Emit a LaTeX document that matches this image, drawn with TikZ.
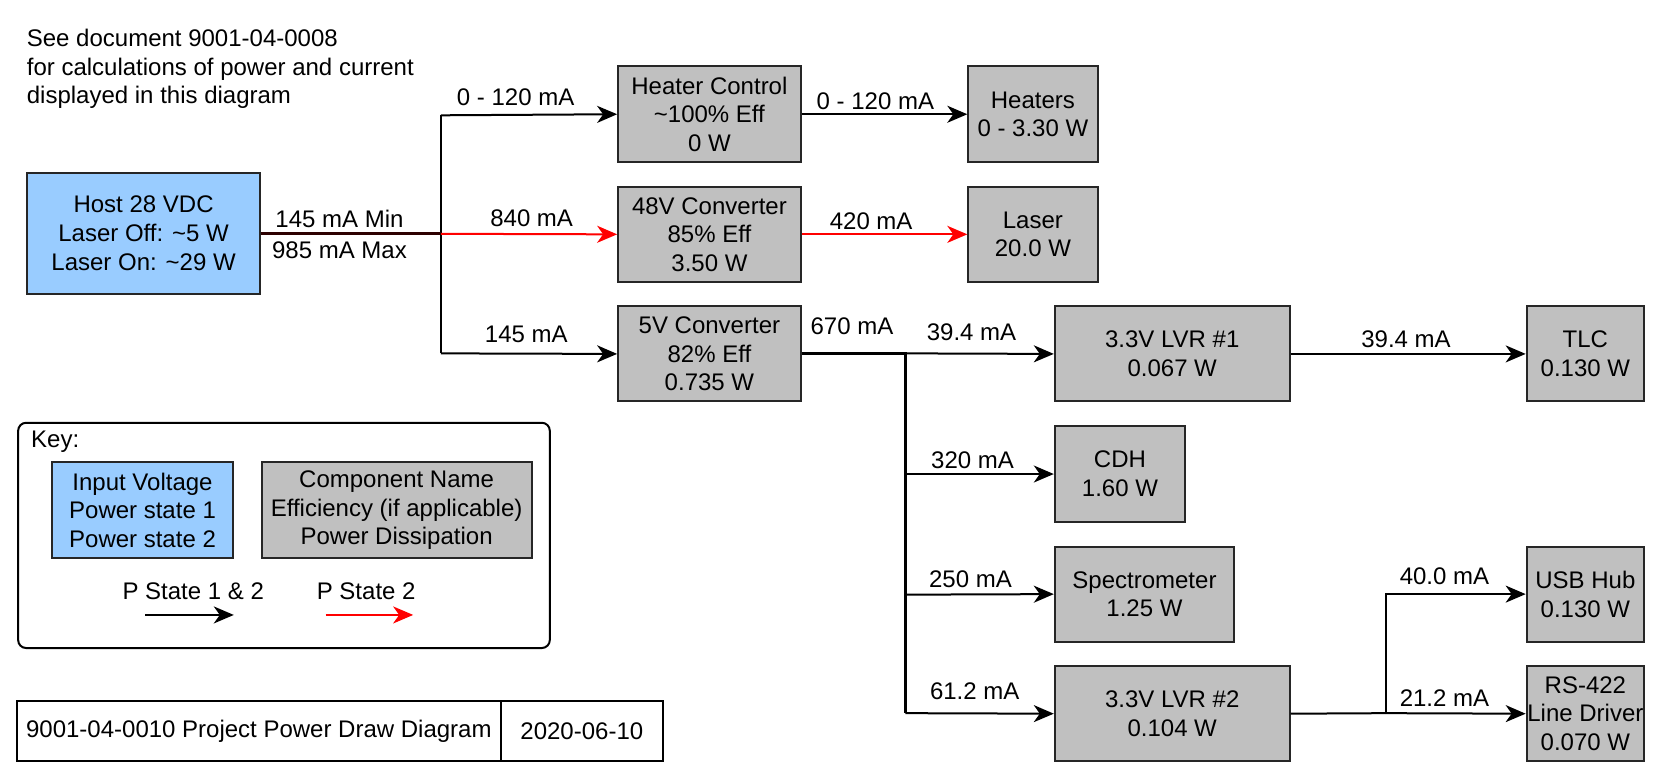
\documentclass[tikz,border=0pt]{standalone}
\usepackage{fontspec}
\setmainfont{Liberation Sans}
\usetikzlibrary{arrows.meta}
\definecolor{inblue}{HTML}{99CCFF}
\definecolor{compgray}{HTML}{C0C0C0}
\definecolor{trunkc}{RGB}{45,0,0}
% \mkbox{name}{style}{x1}{y1}{x2}{y2}{text}
\newcommand\mkbox[7]{\node[#2, minimum width={(#5-#3)*1.0676pt}, minimum height={(#6-#4)*1.0676pt}] (#1) at ({(#3+#5)/2},{(#4+#6)/2}) {#7};}
\begin{document}
\begin{tikzpicture}[x=1.0676pt,y=-1.0676pt,
  every node/.style={font=\fontsize{24}{28.6}\selectfont},
  boxbase/.style={draw=black!85, line width=2pt, inner sep=0pt, align=center},
  compbox/.style={boxbase, fill=compgray},
  inbox/.style={boxbase, fill=inblue},
  plainbox/.style={draw=black, line width=2pt, inner sep=0pt, align=center},
  keyframe/.style={draw=black, line width=2pt, rounded corners=8pt, inner sep=0pt},
  lbl/.style={inner sep=0pt},
  conn/.style={line width=2pt, -{Stealth[length=20pt,width=17pt,inset=6pt]}},
  redconn/.style={conn, draw=red},
  busline/.style={line width=2pt},
  thickbus/.style={line width=3pt}
]
\useasboundingbox (0,0) rectangle (1568,731);

% header note
\node[lbl, anchor=north west, align=left] (note) at (25,27)
  {See document 9001-04-0008\\for calculations of power and current\\displayed in this diagram};

% boxes
\mkbox{host}{inbox}{25}{162}{244}{275}{Host 28 VDC\\Laser Off: \textasciitilde5 W\\Laser On: \textasciitilde29 W}
\mkbox{heatctl}{compbox}{579}{62}{750}{152}{Heater Control\\\textasciitilde100\% Eff\\0 W}
\mkbox{conv48}{compbox}{579}{175}{750}{264}{48V Converter\\85\% Eff\\3.50 W}
\mkbox{conv5}{compbox}{579}{287}{750}{376}{5V Converter\\82\% Eff\\0.735 W}
\mkbox{heaters}{compbox}{907}{62}{1028}{152}{Heaters\\0 - 3.30 W}
\mkbox{laser}{compbox}{907}{175}{1028}{264}{Laser\\20.0 W}
\mkbox{lvr1}{compbox}{988}{287}{1208}{376}{3.3V LVR \#1\\0.067 W}
\mkbox{tlc}{compbox}{1430}{287}{1540}{376}{TLC\\0.130 W}
\mkbox{cdh}{compbox}{988}{399}{1110}{489}{CDH\\1.60 W}
\mkbox{spec}{compbox}{988}{512}{1156}{601}{Spectrometer\\1.25 W}
\mkbox{lvr2}{compbox}{988}{624}{1208}{713}{3.3V LVR \#2\\0.104 W}
\mkbox{usb}{compbox}{1430}{512}{1540}{601}{USB Hub\\0.130 W}
\mkbox{rs}{compbox}{1430}{624}{1540}{713}{RS-422\\Line Driver\\0.070 W}

% junction coordinates
\coordinate (j0) at (413,219);
\coordinate (j1) at (413,108);
\coordinate (j3) at (413,331);
\coordinate (j4) at (848,331);
\coordinate (j5) at (848,444);
\coordinate (j6) at (848,557);
\coordinate (j7) at (848,668);
\coordinate (j8) at (1298,668);

% host trunk and bus
\draw[busline] (j1) -- (j3);
\draw[redconn] (j0) -- (conv48.west);
\draw[line width=3pt, trunkc] (host.east |- j0) -- (j0);
\draw[conn] (j1) -- (heatctl.west);
\draw[conn] (j3) -- (conv5.west);
\draw[conn] (heatctl.east) -- (heaters.west);
\draw[redconn] (conv48.east) -- (laser.west);

% 5V distribution
\draw[thickbus] (conv5.east |- j4) -- (j4) -- (j7);
\draw[conn] (j4) -- (lvr1.west);
\draw[conn] (lvr1.east) -- (tlc.west);
\draw[conn] (j5) -- (cdh.west);
\draw[conn] (j6) -- (spec.west);
\draw[conn] (j7) -- (lvr2.west);
\draw[busline] (lvr2.east) -- (j8);
\draw[conn] (j8) |- (usb.west);
\draw[conn] (j8) -- (rs.west);

% connector labels
\node[lbl] (l1) at (318,205) {145 mA Min};
\node[lbl] (l2) at (318,234) {985 mA Max};
\node[lbl] (l3) at (483,91) {0 - 120 mA};
\node[lbl] (l4) at (498,204) {840 mA};
\node[lbl] (l5) at (493,313) {145 mA};
\node[lbl] (l6) at (820,95) {0 - 120 mA};
\node[lbl] (l7) at (816,207) {420 mA};
\node[lbl] (l8) at (798,306) {670 mA};
\node[lbl] (l9) at (910,311) {39.4 mA};
\node[lbl] (l10) at (1317,318) {39.4 mA};
\node[lbl] (l11) at (911,431) {320 mA};
\node[lbl] (l12) at (909,543) {250 mA};
\node[lbl] (l13) at (913,647) {61.2 mA};
\node[lbl] (l14) at (1353,540) {40.0 mA};
\node[lbl] (l15) at (1353,654) {21.2 mA};

% key
\mkbox{keybox}{keyframe}{17}{396}{515}{607}{}
\node[lbl, anchor=west] (keylbl) at (29,414) {Key:};
\mkbox{keyin}{inbox}{49}{433}{218}{523}{Input Voltage\\Power state 1\\Power state 2}
\mkbox{keycomp}{compbox}{245}{433}{498}{523}{Component Name\\Efficiency (if applicable)\\Power Dissipation}
\node[lbl] (ks1) at (181,554) {P State 1 \& 2};
\node[lbl] (ks2) at (343,554) {P State 2};
\coordinate (ka1) at (136,576);
\coordinate (kb1) at (219,576);
\coordinate (ka2) at (305,576);
\coordinate (kb2) at (387,576);
\draw[conn] (ka1) -- (kb1);
\draw[redconn] (ka2) -- (kb2);

% title block
\mkbox{title}{plainbox}{16}{657}{469}{713}{9001-04-0010 Project Power Draw Diagram}
\mkbox{date}{plainbox}{469}{657}{621}{713}{2020-06-10}
\end{tikzpicture}
\end{document}
